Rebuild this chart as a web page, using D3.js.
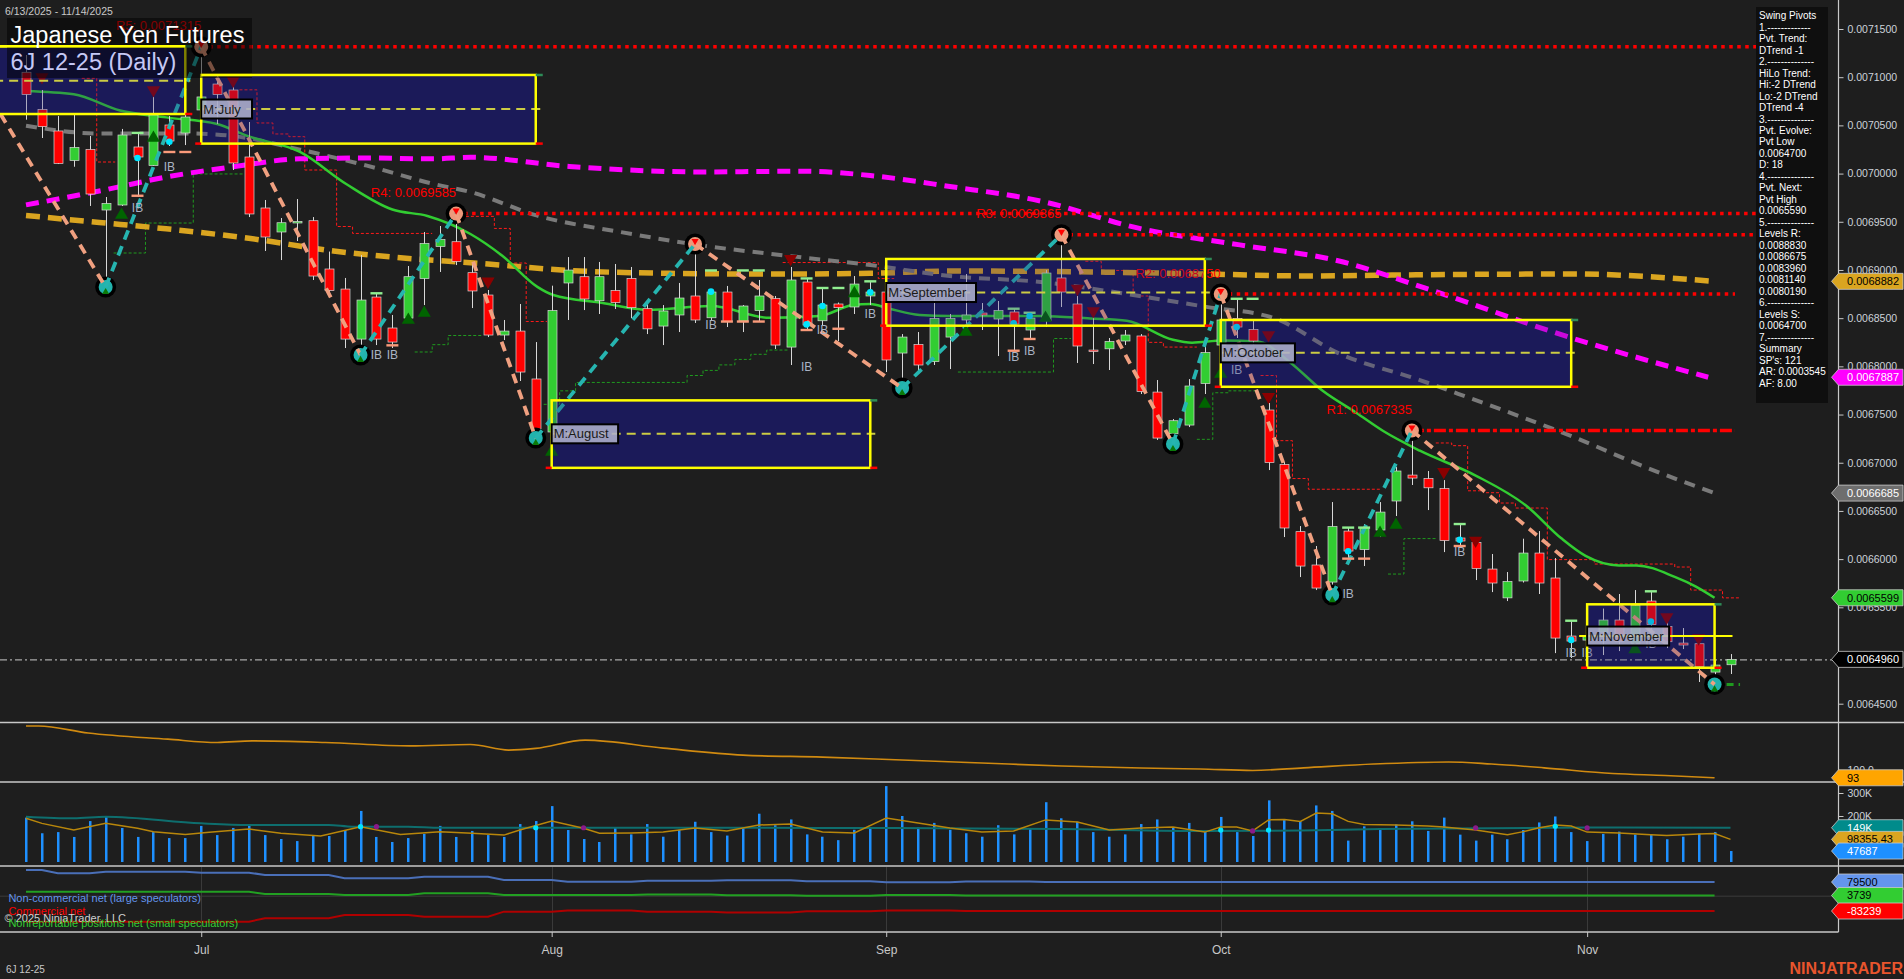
<!DOCTYPE html>
<html><head><meta charset="utf-8">
<script src="https://cdn.jsdelivr.net/npm/d3@7"></script>
<style>
html,body{margin:0;padding:0;background:#1e1e1e;overflow:hidden}
svg{display:block}
text{font-family:"Liberation Sans",Arial,sans-serif}
</style></head><body>
<svg id="c" width="1904" height="979"></svg>
<script>
// ---------------- DATA ----------------
const dates = ("6/13 6/16 6/17 6/18 6/20 6/23 6/24 6/25 6/26 6/27 6/30 " +
 "7/1 7/2 7/3 7/7 7/8 7/9 7/10 7/11 7/14 7/15 7/16 7/17 7/18 7/21 7/22 7/23 7/24 7/25 7/28 7/29 7/30 7/31 " +
 "8/1 8/4 8/5 8/6 8/7 8/8 8/11 8/12 8/13 8/14 8/15 8/18 8/19 8/20 8/21 8/22 8/25 8/26 8/27 8/28 8/29 " +
 "9/2 9/3 9/4 9/5 9/8 9/9 9/10 9/11 9/12 9/15 9/16 9/17 9/18 9/19 9/22 9/23 9/24 9/25 9/26 9/29 9/30 " +
 "10/1 10/2 10/3 10/6 10/7 10/8 10/9 10/10 10/13 10/14 10/15 10/16 10/17 10/20 10/21 10/22 10/23 10/24 10/27 10/28 10/29 10/30 10/31 " +
 "11/3 11/4 11/5 11/6 11/7 11/10 11/11 11/12 11/13 11/14").split(" ");
const monthNames = ["Jul","Aug","Sep","Oct","Nov"];

const open = [0.0071051,0.0070664,0.0070442,0.0070136,0.0070250,0.0069622,0.0069674,0.0070276,0.0070084,0.0070504,
0.0070421,0.0070660,0.0070929,0.0070867,0.0070172,0.0069643,0.0069394,0.0069497,0.0069511,0.0069010,
0.0068802,0.0068283,0.0068719,0.0068398,0.0068501,0.0068911,0.0069243,0.0069293,0.0068972,0.0068740,
0.0068325,0.0068366,0.0067869,0.0067319,0.0068865,0.0068930,0.0068681,0.0068787,0.0068912,0.0068598,
0.0068418,0.0068533,0.0068730,0.0068504,0.0068771,0.0068470,0.0068579,0.0068704,0.0068200,0.0068875,
0.0068473,0.0068647,0.0068616,0.0068730,0.0068771,0.0068138,0.0068226,0.0068049,0.0068304,0.0068481,
0.0068553,0.0068491,0.0068564,0.0068377,0.0068473,0.0068917,0.0068647,0.0068169,0.0068182,0.0068263,
0.0068315,0.0067733,0.0067300,0.0067391,0.0067822,0.0068221,0.0068496,0.0068382,0.0067547,0.0066981,
0.0066285,0.0065939,0.0065762,0.0066291,0.0066099,0.0066302,0.0066603,0.0066872,0.0066835,0.0066732,
0.0066219,0.0066173,0.0065897,0.0065598,0.0065773,0.0066063,0.0065804,0.0065202,0.0065160,0.0065243,
0.0065368,0.0065122,0.0065565,0.0065300,0.0065129,0.0065122,0.0064828,0.0064904];
const high = [0.0071230,0.0070867,0.0070597,0.0070608,0.0070390,0.0069757,0.0070463,0.0070421,0.0070805,0.0070597,
0.0070701,0.0071315,0.0071023,0.0070971,0.0070535,0.0069726,0.0069539,0.0069736,0.0069549,0.0069191,
0.0068917,0.0069155,0.0068761,0.0068533,0.0069041,0.0069394,0.0069456,0.0069585,0.0069072,0.0068792,
0.0068481,0.0068647,0.0068252,0.0068837,0.0069134,0.0069134,0.0069083,0.0069062,0.0069031,0.0068657,
0.0068636,0.0068865,0.0069269,0.0068792,0.0068834,0.0068636,0.0068896,0.0068730,0.0069031,0.0068917,
0.0068813,0.0068662,0.0068937,0.0068885,0.0068844,0.0068335,0.0068356,0.0068730,0.0068543,0.0068958,
0.0068657,0.0068678,0.0068595,0.0068564,0.0068999,0.0069365,0.0068730,0.0068564,0.0068294,0.0068377,
0.0068335,0.0067858,0.0067453,0.0067868,0.0068221,0.0068750,0.0068699,0.0068481,0.0067620,0.0067007,
0.0066343,0.0066136,0.0066592,0.0066323,0.0066364,0.0066592,0.0066955,0.0067335,0.0066914,0.0066820,
0.0066364,0.0066219,0.0066053,0.0065866,0.0066212,0.0066291,0.0066011,0.0065357,0.0065264,0.0065487,
0.0065638,0.0065679,0.0065669,0.0065347,0.0065285,0.0065202,0.0064953,0.0065015];
const low = [0.0070559,0.0070369,0.0070099,0.0070071,0.0069664,0.0068823,0.0069664,0.0069757,0.0070079,0.0070286,
0.0070296,0.0070556,0.0070514,0.0070037,0.0069549,0.0069197,0.0069103,0.0069300,0.0068896,0.0068740,
0.0068190,0.0068118,0.0068221,0.0068190,0.0068460,0.0068636,0.0068979,0.0069051,0.0068605,0.0068304,
0.0068273,0.0067848,0.0067256,0.0067287,0.0068481,0.0068584,0.0068543,0.0068595,0.0068501,0.0068335,
0.0068221,0.0068356,0.0068450,0.0068481,0.0068408,0.0068356,0.0068470,0.0068180,0.0068014,0.0068387,
0.0068429,0.0068263,0.0068543,0.0068636,0.0067941,0.0067775,0.0067952,0.0068014,0.0067972,0.0068377,
0.0068377,0.0068107,0.0068169,0.0068273,0.0068408,0.0068616,0.0068035,0.0068024,0.0067962,0.0068221,
0.0067713,0.0067236,0.0067194,0.0067370,0.0067713,0.0068169,0.0068294,0.0068221,0.0066924,0.0066229,
0.0065814,0.0065679,0.0065627,0.0066011,0.0065928,0.0066229,0.0066447,0.0066769,0.0066509,0.0066073,
0.0066125,0.0065783,0.0065658,0.0065565,0.0065757,0.0065638,0.0065025,0.0064974,0.0065057,0.0065005,
0.0065046,0.0065057,0.0065243,0.0065077,0.0065067,0.0064725,0.0064700,0.0064808];
const close = [0.0070821,0.0070487,0.0070106,0.0070271,0.0069788,0.0069690,0.0070400,0.0070172,0.0070608,0.0070338,
0.0070587,0.0070795,0.0070821,0.0070110,0.0069581,0.0069342,0.0069490,0.0069503,0.0068937,0.0068787,
0.0068283,0.0068688,0.0068283,0.0068252,0.0068930,0.0069274,0.0069316,0.0069088,0.0068782,0.0068325,
0.0068366,0.0067941,0.0067350,0.0068579,0.0068999,0.0068699,0.0068930,0.0068662,0.0068609,0.0068389,
0.0068574,0.0068709,0.0068481,0.0068771,0.0068465,0.0068626,0.0068730,0.0068221,0.0068896,0.0068429,
0.0068636,0.0068609,0.0068854,0.0068771,0.0068066,0.0068304,0.0068014,0.0068496,0.0068496,0.0068533,
0.0068533,0.0068579,0.0068439,0.0068501,0.0068968,0.0068771,0.0068211,0.0068159,0.0068258,0.0068325,
0.0067739,0.0067256,0.0067436,0.0067796,0.0068143,0.0068481,0.0068408,0.0068263,0.0067002,0.0066323,
0.0065928,0.0065700,0.0066338,0.0066084,0.0066327,0.0066488,0.0066914,0.0066841,0.0066740,0.0066193,
0.0066188,0.0065903,0.0065752,0.0065768,0.0066063,0.0065752,0.0065181,0.0065150,0.0065202,0.0065368,
0.0065143,0.0065518,0.0065321,0.0065143,0.0065109,0.0064884,0.0064901,0.0064960];
const volume = [193000,125000,130000,109000,178000,200000,148000,109000,130000,104000,
104000,157000,117000,148000,157000,117000,100000,91000,113000,113000,
139000,222000,109000,87000,104000,122000,157000,109000,135000,117000,
109000,165000,178000,243000,139000,100000,87000,150000,120000,165000,
110000,140000,175000,130000,115000,150000,210000,160000,185000,120000,
110000,95000,140000,150000,330000,200000,150000,170000,140000,125000,
110000,160000,120000,145000,260000,190000,175000,130000,110000,120000,
165000,185000,150000,170000,135000,196000,130000,113000,268000,182000,
177000,246000,222000,93000,155000,139000,163000,177000,135000,193000,
119000,93000,119000,99000,139000,172000,198000,130000,91000,122000,
132000,119000,119000,99000,110000,123000,130000,47687];

// moving averages on price (bar index, value)
const greenIdx = [0,3,5.9,8.8,12,13.9,17.2,20.1,23,25.2,27.9,29.9,32.1,33.1,36.2,39,43,46.7,49.8,51.9,53,54.2,56.1,58,63.7,66.8,69.1,72,73.2,75.1,77.3,79.3,81.4,83.5,85.2,87.5,91,94.2,96.4,97.9,100,101.1,103.5,104.8,106];
const greenVal = [0.0070857,0.0070822,0.0070654,0.0070583,0.0070514,0.0070390,0.0070224,0.0069892,0.0069627,0.0069560,0.0069373,0.0069147,0.0068825,0.0068740,0.0068657,0.0068587,0.0068626,0.0068503,0.0068522,0.0068636,0.0068647,0.0068598,0.0068533,0.0068522,0.0068522,0.0068496,0.0068473,0.0068276,0.0068246,0.0068269,0.0068258,0.0068049,0.0067746,0.0067519,0.0067329,0.0067125,0.0066867,0.0066551,0.0066213,0.0066034,0.0065935,0.0065935,0.0065816,0.0065718,0.0065599];
const grayIdx = [0,4.6,10.1,13,17.2,21.4,25.6,27.9,32.1,37.3,42.5,47.8,53,58,63.7,69.9,74.1,78.3,82.5,87.5,90.4,97.1,101.6,106];
const grayVal = [0.0070497,0.0070416,0.0070416,0.0070390,0.0070249,0.0070082,0.0069892,0.0069809,0.0069563,0.0069394,0.0069253,0.0069147,0.0069051,0.0068938,0.0068875,0.0068730,0.0068617,0.0068503,0.0068128,0.0067858,0.0067685,0.0067270,0.0066958,0.0066685];
const goldIdx = [0,4.6,8.8,14.1,19.3,23.5,28.5,34.1,40.4,46.7,53,58,67.8,74.1,80.4,87.5,97.1,106];
const goldVal = [0.0069565,0.0069493,0.0069427,0.0069326,0.0069197,0.0069126,0.0069068,0.0068995,0.0068965,0.0068958,0.0068965,0.0068989,0.0068977,0.0068958,0.0068938,0.0068950,0.0068958,0.0068882];
const magIdx = [0,4.6,8.8,13,17.2,21.4,25.6,27.9,34.1,42.5,48.8,53,58,63.7,69.9,76.2,82.5,87.8,97.1,105.6];
const magVal = [0.0069675,0.0069819,0.0069964,0.0070071,0.0070153,0.0070162,0.0070153,0.0070169,0.0070074,0.0070017,0.0070025,0.0069980,0.0069866,0.0069715,0.0069431,0.0069260,0.0069090,0.0068813,0.0068291,0.0067887];

// swing pivots
const pivIdx = [-1.6,5,11,21,27,32,42,55,65,72,75,82,87,106];
const pivPrice = [0.0070617,0.0068823,0.0071315,0.0068118,0.0069585,0.0067256,0.0069269,0.0067775,0.0069365,0.0067194,0.0068750,0.0065627,0.0067335,0.0064700];
const pivType = ["H","L","H","L","H","L","H","L","H","L","H","L","H","L"];

// resistance levels
const resName = ["R5","R4","R3","R2","R1"];
const resIdx = [11,27,65,75,87];
const resPrice = [0.0071315,0.0069585,0.0069365,0.0068750,0.0067335];

// monthly boxes
const boxName = ["M:June","M:July","M:August","M:September","M:October","M:November"];
const boxStart = [-2,11,33,54,75,98];
const boxEnd = [10,32,53,74,97,106];
const boxTop = [0.0071320,0.0071023,0.0067647,0.0069114,0.0068481,0.0065531];
const boxBot = [0.0070618,0.0070311,0.0066947,0.0068422,0.0067788,0.0064873];
const boxMid = [0.0070964,0.0070670,0.0067300,0.0068766,0.0068140,0.0065202];

// trailing step lines [bar index, price]
const redSteps = [
 [[3.5,0.0070989],[4.44,0.0070989],[4.44,0.0070120],[5.6,0.0070120]],
 [[13.4,0.0070869],[14.5,0.0070869],[14.5,0.0070525],[15.5,0.0070525],[15.5,0.0070411],[16.5,0.0070411],[16.5,0.0070383],[17.5,0.0070383],[17.5,0.0070037],[19.5,0.0070037],[19.5,0.0069451],[20.5,0.0069451],[20.5,0.0069379],[25.5,0.0069379]],
 [[27.3,0.0069556],[29.4,0.0069556],[29.4,0.0069431],[30.4,0.0069431],[30.4,0.0069072],[31.4,0.0069072],[31.4,0.0068465],[32.7,0.0068465]],
 [[47.5,0.0069077],[53.5,0.0069077],[53.5,0.0068911],[54.5,0.0068911]],
 [[66.5,0.0069090],[67.5,0.0069090],[67.5,0.0068995],[69.5,0.0068995],[69.5,0.0068730],[70.45,0.0068730],[70.45,0.0068249],[71.4,0.0068249],[71.4,0.0068200],[73.5,0.0068200]],
 [[77.5,0.0067905],[78.5,0.0067905],[78.5,0.0067229],[79.5,0.0067229],[79.5,0.0066836],[80.5,0.0066836],[80.5,0.0066725],[85,0.0066725]],
 [[88.5,0.0067205],[89.5,0.0067205],[89.5,0.0067177],[90.5,0.0067177],[90.5,0.0066709],[91.5,0.0066709],[91.5,0.0066689],[92.5,0.0066689],[92.5,0.0066582],[93.5,0.0066582],[93.5,0.0066530],[95.5,0.0066530],[95.5,0.0065995],[98.45,0.0065995],[98.45,0.0065949],[103.5,0.0065949],[103.5,0.0065918],[104.5,0.0065918],[104.5,0.0065679],[106.5,0.0065679],[106.5,0.0065598],[107.6,0.0065598]]
];
const greenSteps = [
 [[5.5,0.0069176],[7.5,0.0069176],[7.5,0.0069487],[10.5,0.0069487],[10.5,0.0069996],[13.6,0.0069996]],
 [[24.4,0.0068149],[25.5,0.0068149],[25.5,0.0068225],[26.5,0.0068225],[26.5,0.0068320],[28.6,0.0068320]],
 [[32.5,0.0067606],[33.5,0.0067606],[33.5,0.0067746],[34.5,0.0067746],[34.5,0.0067833],[41.5,0.0067833],[41.5,0.0067905],[42.5,0.0067905],[42.5,0.0067958],[43.5,0.0067958],[43.5,0.0068015],[44.5,0.0068015],[44.5,0.0068072],[45.5,0.0068072],[45.5,0.0068125],[46.5,0.0068125],[46.5,0.0068169],[47.8,0.0068169]],
 [[58.5,0.0067941],[64.5,0.0067941],[64.5,0.0068289],[65.6,0.0068289]],
 [[73.5,0.0067243],[74.5,0.0067243],[74.5,0.0067726],[75.5,0.0067726],[75.5,0.0067746],[77.3,0.0067746]],
 [[85.5,0.0065845],[86.5,0.0065845],[86.5,0.0066213],[88.6,0.0066213]]
];
const supportNow = [[106,0.0064700],[107.6,0.0064700]];

// bar markers [bar index, price]
const upTri = [[6,0.0069570],[8,0.0070369],[24,0.0068481],[25,0.0068553],[33,0.0067111],[52,0.0068757],[59,0.0068356],[64,0.0068501],[74,0.0067609],[75,0.0067920],[85,0.0066271],[86,0.0066354],[101,0.0065063]];
const downTri = [[1,0.0071002],[8,0.0070867],[13,0.0070965],[29,0.0068882],[48,0.0069117],[66,0.0068807],[67,0.0068574],[78,0.0068325],[78,0.0067685],[89,0.0066907],[91,0.0066193],[103,0.0065399],[105,0.0065181]];
const ibMarks = [[7,0.0069643],[9,0.0070071],[22,0.0068123],[23,0.0068123],[43,0.0068429],[49,0.0067993],[50,0.0068377],[53,0.0068543],[62,0.0068097],[63,0.0068163],[76,0.0067962],[83,0.0065645],[90,0.0066073],[97,0.0065023],[98,0.0065023],[102,0.0065122]];
const cyanDots = [[7,0.0070162],[9,0.0070330],[43,0.0068775],[49,0.0068435],[50,0.0068626],[53,0.0068768],[62,0.0068447],[63,0.0068522],[76,0.0068408],[83,0.0066081],[90,0.0066201],[97,0.0065162],[102,0.0065352]];
const hiDashes = [[7,0.0070422],[22,0.0068758],[43,0.0068995],[45,0.0068995],[46,0.0068995],[49,0.0068912],[50,0.0068813],[51,0.0068813],[53,0.0068882],[62,0.0068598],[63,0.0068556],[76,0.0068701],[77,0.0068701],[83,0.0066327],[84,0.0066327],[90,0.0066364],[97,0.0065361],[102,0.0065666]];
const loDashes = [[7,0.0069770],[9,0.0070224],[10,0.0070224],[23,0.0068218],[44,0.0068465],[45,0.0068465],[46,0.0068465],[49,0.0068377],[51,0.0068390],[62,0.0068162],[63,0.0068284],[83,0.0066005],[84,0.0066005],[90,0.0066136]];

// oscillator panel
const oscIdx = [0,0.8,3.9,8.9,12,14.2,18.8,24.1,27.9,30.3,32,35.1,40,45,50,55,60,65,70,73.7,77,80.2,84.6,89.3,92,95.3,99.6,102.9,106];
const oscVal = [138.5,138.5,132.4,127,124.1,125.5,124.1,121.1,122.3,117.4,118.9,126.1,119.1,113,111.3,108.7,106.1,103.5,101.7,100.9,99.6,101.9,105.2,107,105.2,101.9,96.9,95.2,93.2];

// volume averages
const volMaIdx = [0,1,3,5,7,8,10,11.5,14,16,18.5,21,23.5,26,28,30,31,33,35,36,38,40,42,44,46,48,50,52,54,56,58,60,62,64,66,68,70,72,74,75,76,77,78,79,80,81,82,83,84,86,88,89,91,93,94,95,96,97,98,100,102,103,105,106,107];
const volMaVal = [190000,168000,139000,168000,146500,132000,120000,129000,143500,125000,113000,153500,120000,132000,125000,117000,139000,178000,146500,125000,126000,130000,148000,135000,161000,165000,130000,126000,191000,170000,148000,130000,135000,183000,174000,139000,148000,152000,130000,152000,152000,135000,183000,185000,176500,213000,210000,176500,163500,161000,156500,152000,139000,119000,132000,148700,161000,156500,130000,126000,119000,115000,122000,123500,98355.43];
const volAvgIdx = [0,3,5,11,14,19,20.5,24,26,36,50,65,74,80,85,100,107];
const volAvgVal = [197000,190000,197000,168000,161000,161000,153500,153500,149000,149000,148000,143500,135000,137000,143500,150000,149000];
const volCyan = [[21,153500],[32,149000],[75,139000],[78,139000],[96,155000]];
const volPurple = [[22,153500],[35,149000],[77,135000],[91,148000],[98,148000]];

// COT net positions (weekly)
const cotIdx = [0,2,5,11,15,20,25,30,34,39,44,49,54,59,64,106];
const cotNonComm = [147000,128500,137500,132000,119000,100000,109000,91000,81000,86000,90000,84000,78000,82000,79500,79500];
const cotNonRep = [25000,25000,25000,25000,12000,6700,16000,6700,6700,9000,5000,2000,6000,4000,3739,3739];
const cotComm = [-143000,-143000,-143000,-143000,-124000,-105500,-115000,-87000,-81000,-88000,-92000,-84000,-80000,-83000,-83239,-83239];

// axis tick labels (labels covered by value tags in the reference are omitted)
const priceTicks = [0.00645,0.00655,0.0066,0.00665,0.0067,0.00675,0.0068,0.00685,0.0069,0.00695,0.007,0.00705,0.0071,0.00715];
const volTicks = [200000,300000];
const oscTicks = [100];
const infoLines = ["Swing Pivots","1.-------------","Pvt. Trend:","DTrend -1","2.--------------","HiLo Trend:","Hi:-2 DTrend","Lo:-2 DTrend","DTrend -4","3.--------------","Pvt. Evolve:","Pvt Low","0.0064700","D: 18","4.--------------","Pvt. Next:","Pvt High","0.0065590","5.--------------","Levels R:","0.0088830","0.0086675","0.0083960","0.0081140","0.0080190","6.--------------","Levels S:","0.0064700","7.--------------","Summary","SP's: 121","AR: 0.0003545","AF: 8.00"];

// ---------------- DRAW ----------------
const svg = d3.select("#c");
const AX = 1838.5;
const n = dates.length;
const x = d3.scaleLinear().domain([0, n-1]).range([26, 1730.5]);
const y = d3.scaleLinear().domain([0.00645, 0.00715]).range([703.7, 29]);
const yV = d3.scaleLinear().domain([0, 300000]).range([862, 793]);
const yO = d3.scaleLinear().domain([93, 100]).range([778, 770]);
const yC = d3.scaleLinear().domain([-83239, 79500]).range([911, 882]);
const f7 = d3.format(".7f");

svg.append("rect").attr("width",1904).attr("height",979).attr("fill","#1e1e1e");
const defs = svg.append("defs");
defs.append("clipPath").attr("id","pc").append("rect").attr("x",0).attr("y",0).attr("width",AX).attr("height",722);
const P = svg.append("g").attr("clip-path","url(#pc)");

// box base fills
boxName.forEach((nm,k)=>{
  P.append("rect").attr("x",x(boxStart[k])).attr("y",y(boxTop[k]))
   .attr("width",x(boxEnd[k])-x(boxStart[k])).attr("height",y(boxBot[k])-y(boxTop[k]))
   .attr("fill","#17194f");
});

// step lines
const lin = d3.line().x(d=>x(d[0])).y(d=>y(d[1]));
redSteps.forEach(s=>P.append("path").attr("d",lin(s)).attr("fill","none").attr("stroke","#ff1a1a").attr("stroke-width",1).attr("stroke-dasharray","3,2"));
greenSteps.forEach(s=>P.append("path").attr("d",lin(s)).attr("fill","none").attr("stroke","#1f9a1f").attr("stroke-width",1).attr("stroke-dasharray","3,2"));
P.append("path").attr("d",lin(supportNow)).attr("fill","none").attr("stroke","#1f9a1f").attr("stroke-width",3).attr("stroke-dasharray","7,5");

// moving averages
const maLine = d3.line().x(d=>x(d[0])).y(d=>y(d[1])).curve(d3.curveMonotoneX);
function drawMA(idx,val,color,w,dash){
  P.append("path").datum(d3.zip(idx,val)).attr("d",maLine).attr("fill","none")
   .attr("stroke",color).attr("stroke-width",w).attr("stroke-dasharray",dash);
}
drawMA(goldIdx,goldVal,"#daa520",5.5,"14,8");
drawMA(grayIdx,grayVal,"#7a7a7a",4,"11,8");
drawMA(magIdx,magVal,"#ff00ff",5,"13,8");
drawMA(greenIdx,greenVal,"#32cd32",2.5,null);

// resistance levels
resName.forEach((r,k)=>{
  const x2 = (r==="R1"||r==="R2") ? 1735 : 1760;
  P.append("line").attr("x1",x(resIdx[k])).attr("x2",x2).attr("y1",y(resPrice[k])).attr("y2",y(resPrice[k]))
   .attr("stroke","#ff0000").attr("stroke-width",3.5).attr("stroke-dasharray", r==="R1" ? "12,3,4,3" : "3.5,4.5");
});

// close line
P.append("line").attr("x1",0).attr("x2",AX).attr("y1",y(close[n-1])+0.5).attr("y2",y(close[n-1])+0.5)
 .attr("stroke","#a8a8a8").attr("stroke-width",1.2).attr("stroke-dasharray","7,3,2,3");

// candles
const idx = d3.range(n);
const gc = P.append("g");
gc.selectAll("line").data(idx).join("line")
  .attr("x1",i=>Math.round(x(i))+0.5).attr("x2",i=>Math.round(x(i))+0.5)
  .attr("y1",i=>y(high[i])).attr("y2",i=>y(low[i]))
  .attr("stroke","#d8d8d8").attr("stroke-width",1);
gc.selectAll("rect").data(idx).join("rect")
  .attr("x",i=>Math.round(x(i))-4)
  .attr("y",i=>y(Math.max(open[i],close[i])))
  .attr("width",9)
  .attr("height",i=>Math.max(1.5, y(Math.min(open[i],close[i]))-y(Math.max(open[i],close[i]))))
  .attr("fill",i=>close[i]>=open[i]?"#32cd32":"#ff0000")
  .attr("stroke","#d8d8d8").attr("stroke-width",0.7);

// R labels
resName.forEach((r,k)=>{
  P.append("text").attr("x",x(resIdx[k])).attr("y",y(resPrice[k])-21).attr("dy","0.35em")
   .attr("text-anchor","end").attr("font-size",13).attr("fill","#ff0000")
   .text(r+": "+f7(resPrice[k]));
});

// pivot circles
const piv = d3.range(1,pivIdx.length);
piv.forEach(k=>{
  const cx=x(pivIdx[k]), cy=y(pivPrice[k]);
  P.append("circle").attr("cx",cx).attr("cy",cy).attr("r",10.5).attr("fill","#000");
  P.append("circle").attr("cx",cx).attr("cy",cy).attr("r",7).attr("fill",pivType[k]==="H"?"#ec9a7c":"#22b3ad");
});
// zigzag
for(let k=0;k<pivIdx.length-1;k++){
  const down = pivType[k]==="H";
  P.append("line").attr("x1",x(pivIdx[k])).attr("y1",y(pivPrice[k])).attr("x2",x(pivIdx[k+1])).attr("y2",y(pivPrice[k+1]))
   .attr("stroke",down?"#f0a080":"#26b5b0").attr("stroke-width",3.8).attr("stroke-dasharray","10,7");
}
piv.forEach(k=>{
  const cx=x(pivIdx[k]), cy=y(pivPrice[k]);
  if(pivType[k]==="H"){
    P.append("path").attr("d",d3.symbol().type(d3.symbolTriangle).size(22)()).attr("transform",`translate(${cx},${cy-3}) rotate(180)`).attr("fill","#ff0000");
  } else {
    P.append("path").attr("d",d3.symbol().type(d3.symbolTriangle).size(22)()).attr("transform",`translate(${cx},${cy+5})`).attr("fill","#0a7a0a");
  }
});

// markers
const tri = d3.symbol().type(d3.symbolTriangle).size(75)();
upTri.forEach(d=>P.append("path").attr("d",tri).attr("transform",`translate(${x(d[0])},${y(d[1])})`).attr("fill","#006400"));
downTri.forEach(d=>P.append("path").attr("d",tri).attr("transform",`translate(${x(d[0])},${y(d[1])}) rotate(180)`).attr("fill","#8b0000"));
hiDashes.forEach(d=>P.append("rect").attr("x",x(d[0])-6).attr("y",y(d[1])-1.2).attr("width",12).attr("height",2.4).attr("fill","#90ee90"));
loDashes.forEach(d=>P.append("rect").attr("x",x(d[0])-6).attr("y",y(d[1])-1.2).attr("width",12).attr("height",2.4).attr("fill","#fa9a7a"));
cyanDots.forEach(d=>P.append("circle").attr("cx",x(d[0])).attr("cy",y(d[1])).attr("r",3.3).attr("fill","#00e5ff"));
ibMarks.forEach(d=>P.append("text").attr("x",x(d[0])).attr("y",y(d[1])).attr("dy","0.35em").attr("text-anchor","middle")
  .attr("font-size",12).attr("fill","#aab4c4").text("IB"));

// box overlay, borders, labels
boxName.forEach((nm,k)=>{
  const x1=x(boxStart[k]), x2=x(boxEnd[k]), y1=y(boxTop[k]), y2=y(boxBot[k]);
  P.append("rect").attr("x",x1).attr("y",y1).attr("width",x2-x1).attr("height",y2-y1).attr("fill","rgba(40,30,120,0.25)");
});
boxName.forEach((nm,k)=>{
  const x1=x(boxStart[k]), x2=x(boxEnd[k]), y1=y(boxTop[k]), y2=y(boxBot[k]), ym=y(boxMid[k]);
  const current = k===boxName.length-1;
  P.append("line").attr("x1",current?x(boxStart[k]-0.5):x1).attr("x2",current?x(n-1)+2:x2+5).attr("y1",ym).attr("y2",ym)
   .attr("stroke",current?"#ffff00":"#cccc44").attr("stroke-width",2).attr("stroke-dasharray",current?null:"9,6");
  P.append("rect").attr("x",x1).attr("y",y1).attr("width",x2-x1).attr("height",y2-y1)
   .attr("fill","none").attr("stroke","#ffff00").attr("stroke-width",2.5);
  P.append("line").attr("x1",x1-6).attr("x2",x1).attr("y1",y2).attr("y2",y2).attr("stroke","#ff0000").attr("stroke-width",2.5);
  P.append("line").attr("x1",x2).attr("x2",x2+7).attr("y1",y2).attr("y2",y2).attr("stroke","#ff0000").attr("stroke-width",2.5);
  P.append("line").attr("x1",x2).attr("x2",x2+7).attr("y1",y1).attr("y2",y1).attr("stroke","#2e8b57").attr("stroke-width",2.5);
  if(boxStart[k]>=0){
    const w = nm.length*7.8+4;
    P.append("rect").attr("x",x1).attr("y",ym-9.5).attr("width",w).attr("height",19)
     .attr("fill","#aeb0cc").attr("fill-opacity",0.88).attr("stroke","#000").attr("stroke-width",2);
    P.append("text").attr("x",x1+2).attr("y",ym).attr("dy","0.35em").attr("font-family","'Liberation Mono',monospace")
     .attr("font-size",13).attr("fill","#1a1a1a").text(nm);
  }
});

// title
svg.append("text").attr("x",5).attr("y",11).attr("dy","0.35em").attr("font-size",10.5).attr("fill","#c8c8c8")
  .text("6/13/2025 - 11/14/2025");
svg.append("rect").attr("x",7).attr("y",18).attr("width",245).attr("height",60).attr("fill","#000").attr("fill-opacity",0.5);
svg.append("line").attr("x1",0).attr("x2",x(boxEnd[0])).attr("y1",y(boxTop[0])).attr("y2",y(boxTop[0])).attr("stroke","#ffff00").attr("stroke-width",2.5);
svg.append("line").attr("x1",x(boxStart[1])).attr("x2",252).attr("y1",y(boxTop[1])).attr("y2",y(boxTop[1])).attr("stroke","#ffff00").attr("stroke-width",2.5);
svg.append("text").attr("x",10.5).attr("y",43.3).attr("font-size",23.5).attr("fill","#ffffff").text("Japanese Yen Futures");
svg.append("text").attr("x",10.5).attr("y",70).attr("font-size",23.5).attr("fill","#c5c8f5").text("6J 12-25 (Daily)");

// info panel
svg.append("rect").attr("x",1756).attr("y",7).attr("width",72).attr("height",396).attr("fill","#0f0f0f");
infoLines.forEach((t,k)=>svg.append("text").attr("x",1759).attr("y",15.7+k*11.48).attr("dy","0.35em")
  .attr("font-size",10).attr("fill","#ffffff").text(t));

// ---- lower panels ----
svg.append("path").datum(d3.zip(oscIdx,oscVal)).attr("d",d3.line().x(d=>x(d[0])).y(d=>yO(d[1])).curve(d3.curveMonotoneX))
  .attr("fill","none").attr("stroke","#d08a10").attr("stroke-width",1.6);
svg.append("g").selectAll("rect").data(idx).join("rect")
  .attr("x",i=>Math.round(x(i))-1).attr("y",i=>yV(volume[i])).attr("width",2.5).attr("height",i=>862-yV(volume[i]))
  .attr("fill","#1e90ff");
svg.append("path").datum(d3.zip(volAvgIdx,volAvgVal)).attr("d",d3.line().x(d=>x(d[0])).y(d=>yV(d[1])).curve(d3.curveMonotoneX))
  .attr("fill","none").attr("stroke","#0e6e6e").attr("stroke-width",2);
svg.append("path").datum(d3.zip(volMaIdx,volMaVal)).attr("d",d3.line().x(d=>x(d[0])).y(d=>yV(d[1])))
  .attr("fill","none").attr("stroke","#b8860b").attr("stroke-width",1.5);
volCyan.forEach(d=>svg.append("circle").attr("cx",x(d[0])).attr("cy",yV(d[1])).attr("r",2.6).attr("fill","#00e5ff"));
volPurple.forEach(d=>svg.append("circle").attr("cx",x(d[0])).attr("cy",yV(d[1])).attr("r",2.6).attr("fill","#8a1a8a"));

const monthStarts = idx.filter(i=>i>0 && dates[i].split("/")[0]!==dates[i-1].split("/")[0]);
monthStarts.forEach(i=>svg.append("line").attr("x1",Math.round(x(i))+0.5).attr("x2",Math.round(x(i))+0.5).attr("y1",867).attr("y2",931).attr("stroke","#3a3a3a"));
svg.append("line").attr("x1",0).attr("x2",AX).attr("y1",yC(0)).attr("y2",yC(0)).attr("stroke","#3c3c3c");
function cotPath(vals,color){
  const pts=[];
  cotIdx.forEach((c,k)=>{ pts.push([c,vals[k]]); if(k<cotIdx.length-1) pts.push([cotIdx[k+1]-1,vals[k]]); });
  svg.append("path").attr("d",d3.line().x(d=>x(d[0])).y(d=>yC(d[1]))(pts)).attr("fill","none").attr("stroke",color).attr("stroke-width",2);
}
cotPath(cotNonComm,"#4a6fb8");
cotPath(cotNonRep,"#22a022");
cotPath(cotComm,"#b00000");
svg.append("text").attr("x",8.4).attr("y",898.3).attr("dy","0.35em").attr("font-size",11).attr("fill","#6495ed").text("Non-commercial net (large speculators)");
svg.append("text").attr("x",8.4).attr("y",911).attr("dy","0.35em").attr("font-size",11).attr("fill","#ff0000").text("Commercial net");
svg.append("text").attr("x",4.6).attr("y",918.5).attr("dy","0.35em").attr("font-size",11).attr("fill","#d0d0d0").text("© 2025 NinjaTrader, LLC");
svg.append("text").attr("x",8.4).attr("y",923.3).attr("dy","0.35em").attr("font-size",11).attr("fill","#32cd32").text("Nonreportable positions net (small speculators)");

[[722.5,1904],[782,1904],[866,1904],[932,AX]].forEach(s=>svg.append("line").attr("x1",0).attr("x2",s[1]).attr("y1",s[0]).attr("y2",s[0]).attr("stroke","#c8c8c8").attr("stroke-width",1.5));
svg.append("line").attr("x1",AX).attr("x2",AX).attr("y1",0).attr("y2",932).attr("stroke","#c8c8c8").attr("stroke-width",1.2);

function styleAxis(g){
  g.select(".domain").remove();
  g.selectAll(".tick line").attr("stroke","#c8c8c8");
  g.selectAll(".tick text").attr("fill","#cdd3da").attr("font-size",10.5).attr("font-family","'Liberation Sans',Arial,sans-serif");
}
svg.append("g").attr("transform",`translate(${AX},0)`)
  .call(d3.axisRight(y).tickValues(priceTicks).tickFormat(f7).tickSize(5).tickPadding(4)).call(styleAxis);
svg.append("g").attr("transform",`translate(${AX},0)`)
  .call(d3.axisRight(yV).tickValues(volTicks).tickFormat(d=>(d/1000)+"K").tickSize(5).tickPadding(4)).call(styleAxis);
svg.append("g").attr("transform",`translate(${AX},0)`)
  .call(d3.axisRight(yO).tickValues(oscTicks).tickSize(5).tickPadding(4)).call(styleAxis);
svg.append("g").attr("transform",`translate(0,932)`)
  .call(d3.axisBottom(x).tickValues(monthStarts).tickFormat((d,k)=>monthNames[k]).tickSize(5).tickPadding(8)).call(styleAxis)
  .selectAll(".tick text").attr("font-size",12).attr("fill","#c8c8c8");

function tag(yc,label,bg,fg){
  svg.append("path").attr("d",`M${AX-7},${yc} L${AX},${yc-8} L1903,${yc-8} L1903,${yc+8} L${AX},${yc+8} Z`)
    .attr("fill",bg).attr("stroke","#c8c8c8").attr("stroke-width",0.8);
  svg.append("text").attr("x",1847).attr("y",yc).attr("dy","0.36em").attr("font-size",11).attr("fill",fg).text(label);
}
tag(y(goldVal[goldVal.length-1]),f7(goldVal[goldVal.length-1]),"#daa520","#000");
tag(y(magVal[magVal.length-1]),f7(magVal[magVal.length-1]),"#ff00ff","#fff");
tag(y(grayVal[grayVal.length-1]),f7(grayVal[grayVal.length-1]),"#6e6e6e","#fff");
tag(y(greenVal[greenVal.length-1]),f7(greenVal[greenVal.length-1]),"#32cd32","#000");
tag(y(close[n-1]),f7(close[n-1]),"#000","#fff");
tag(yO(oscVal[oscVal.length-1]),d3.format(".0f")(oscVal[oscVal.length-1]),"#ffa500","#000");
tag(yV(volAvgVal[volAvgVal.length-1]),d3.format(".0f")(volAvgVal[volAvgVal.length-1]/1000)+"K","#008b8b","#fff");
tag(yV(volMaVal[volMaVal.length-1]),d3.format(".2f")(volMaVal[volMaVal.length-1]),"#daa520","#000");
tag(yV(volume[n-1]),String(volume[n-1]),"#1e90ff","#fff");
tag(yC(cotNonComm[cotNonComm.length-1]),String(cotNonComm[cotNonComm.length-1]),"#6495ed","#000");
tag(yC(cotNonRep[cotNonRep.length-1]),String(cotNonRep[cotNonRep.length-1]),"#32cd32","#000");
tag(yC(cotComm[cotComm.length-1]),String(cotComm[cotComm.length-1]),"#ff0000","#fff");

svg.append("text").attr("x",6).attr("y",969).attr("dy","0.35em").attr("font-size",10).attr("fill","#c8c8c8").text("6J 12-25");
svg.append("text").attr("x",1903).attr("y",968).attr("dy","0.36em").attr("text-anchor","end").attr("font-size",16)
  .attr("font-weight","bold").attr("fill","#e8552d").text("NINJATRADER");
</script></body></html>
